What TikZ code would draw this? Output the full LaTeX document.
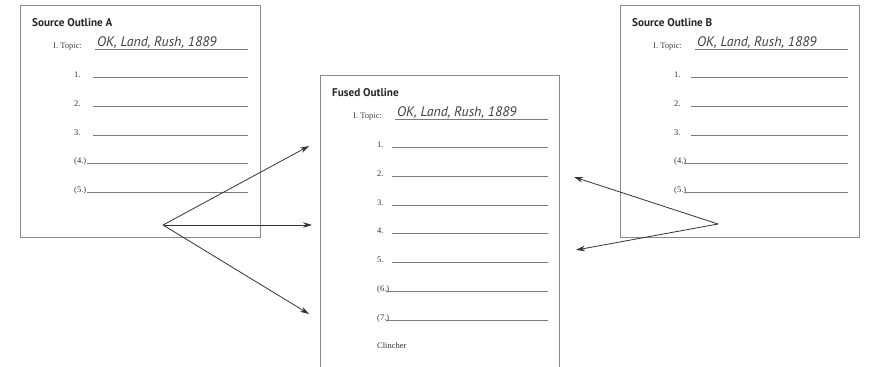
\documentclass[tikz,border=0pt]{standalone}
\usepackage{fontspec}
\setmainfont{Liberation Serif}
\newfontfamily\titlefont{PT Sans}
\usetikzlibrary{arrows.meta}
\definecolor{boxgray}{HTML}{8A8A8A}
\definecolor{rulegray}{HTML}{7A7A7A}
\definecolor{arrowgray}{HTML}{333333}
\tikzset{
  outlinebox/.style={draw=boxgray, line width=1pt, inner sep=0pt, outer sep=0pt, anchor=north west},
  boxtitle/.style={font=\titlefont\bfseries\fontsize{11.2}{12}\selectfont, anchor=base west, inner sep=0pt, text=black!85},
  topiclabel/.style={font=\fontsize{8.5}{9}\selectfont, anchor=base west, inner sep=0pt, text=black!75},
  topictext/.style={font=\titlefont\itshape\fontsize{13.8}{14}\selectfont, anchor=base west, inner sep=0pt, text=black!75},
  rowlabel/.style={font=\fontsize{8.5}{9}\selectfont, anchor=base west, inner sep=0pt, text=black!80},
  rowrule/.style={draw=rulegray, line width=0.8pt},
  fusearrow/.style={draw=arrowgray, line width=0.8pt, -{Stealth[length=9pt,width=5.5pt]}}
}
\newcommand{\outlinecontent}[2]{%
  % #1 prefix, #2 title
  \node[boxtitle] (#1title) at (12,21) {#2};
  \node[topiclabel] (#1tlab) at (33,43) {I. Topic:};
  \node[topictext] (#1ttext) at (77,41) {OK, Land, Rush, 1889};
  \draw[rowrule] (75,44) -- (228,44);
}
\begin{document}
\begin{tikzpicture}[x=1pt,y=-1pt]
\useasboundingbox (0,0) rectangle (871,367);
\clip (0,0) rectangle (871,367);
\fill[white] (0,0) rectangle (871,367);
% boxes
\node[outlinebox, minimum width=240pt, minimum height=232pt] (A) at (20,5) {};
\node[outlinebox, minimum width=239pt, minimum height=310pt] (F) at (320,75) {};
\node[outlinebox, minimum width=239pt, minimum height=232pt] (B) at (620,5) {};
% Source Outline A
\begin{scope}[shift={(20,5)}]
  \outlinecontent{a}{Source Outline A}
  \foreach \lab/\k/\xs in {1./1/73, 2./2/73, 3./3/73, (4.)/4/67, (5.)/5/67}{
    \pgfmathsetmacro{\yy}{72.5+28.75*(\k-1)}
    \node[rowlabel] (a\k) at (54,\yy) {\lab};
    \draw[rowrule] (\xs,\yy) -- (228,\yy);
  }
\end{scope}
% Fused Outline
\begin{scope}[shift={(320,75)}]
  \outlinecontent{f}{Fused Outline}
  \foreach \lab/\k/\xs in {1./1/72, 2./2/72, 3./3/72, 4./4/72, 5./5/72, (6.)/6/66, (7.)/7/66}{
    \pgfmathsetmacro{\yy}{72.5+28.75*(\k-1)}
    \node[rowlabel] (f\k) at (57,\yy) {\lab};
    \draw[rowrule] (\xs,\yy) -- (228,\yy);
  }
  \node[rowlabel] (fclinch) at (57,273) {Clincher};
\end{scope}
% Source Outline B
\begin{scope}[shift={(620,5)}]
  \outlinecontent{b}{Source Outline B}
  \foreach \lab/\k/\xs in {1./1/71, 2./2/71, 3./3/71, (4.)/4/65, (5.)/5/65}{
    \pgfmathsetmacro{\yy}{72.5+28.75*(\k-1)}
    \node[rowlabel] (b\k) at (54,\yy) {\lab};
    \draw[rowrule] (\xs,\yy) -- (228,\yy);
  }
\end{scope}
% arrows
\coordinate (srcA) at (163,225);
\coordinate (srcB) at (718,224);
\coordinate (tA1) at (309,146);
\coordinate (tA2) at (312,225);
\coordinate (tA3) at (309,314);
\coordinate (tB1) at (574,177);
\coordinate (tB2) at (576,250);
\draw[fusearrow] (srcA) -- (tA1);
\draw[fusearrow] (srcA) -- (tA2);
\draw[fusearrow] (srcA) -- (tA3);
\draw[fusearrow] (srcB) -- (tB1);
\draw[fusearrow] (srcB) -- (tB2);
\end{tikzpicture}
\end{document}
